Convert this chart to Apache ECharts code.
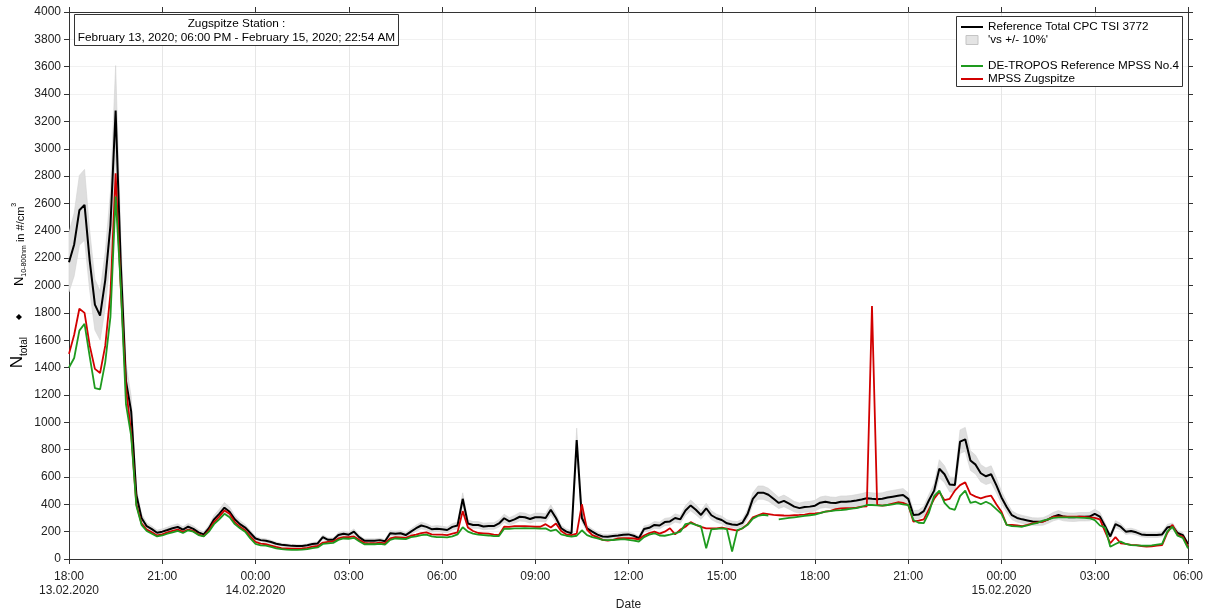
<!DOCTYPE html>
<html>
<head>
<meta charset="utf-8">
<title>Zugspitze Station N_total</title>
<script src="https://cdn.jsdelivr.net/npm/echarts@6/dist/echarts.min.js"></script>
<style>
  html, body { margin: 0; padding: 0; background: #fff; }
  #chart { width: 1208px; height: 611px; }
</style>
</head>
<body>
<div id="chart"></div>
<script>
// Samples every 10 minutes, starting 13.02.2020 18:00 (x in hours since start)
const STEP_MIN = 10;

const tickLabels = [
  '18:00\n13.02.2020', '21:00', '00:00\n14.02.2020', '03:00', '06:00', '09:00',
  '12:00', '15:00', '18:00', '21:00', '00:00\n15.02.2020', '03:00', '06:00'
];

// Reference Total CPC TSI 3772, #/cm3
const cpcTotal = [
  2170, 2300, 2550, 2590, 2180, 1860, 1780, 2040, 2440, 3280,
  2150, 1300, 1080, 470, 300, 240, 218, 192, 200, 212,
  225, 234, 214, 236, 220, 195, 180, 225, 290, 330,
  375, 345, 290, 255, 230, 190, 150, 138, 134, 124,
  112, 104, 100, 96, 95, 95, 100, 110, 114, 160,
  140, 140, 175, 185, 178, 200, 160, 134, 134, 134,
  138, 130, 188, 185, 188, 175, 200, 225, 245, 235,
  218, 222, 218, 212, 235, 245, 440, 260, 249, 249,
  238, 241, 241, 260, 298, 275, 290, 309, 305, 292,
  305, 305, 300, 360, 300, 225, 200, 188, 870, 300,
  224, 200, 178, 165, 163, 168, 172, 178, 180, 170,
  152, 220, 228, 249, 245, 270, 275, 300, 290, 355,
  392, 360, 322, 371, 320, 298, 285, 261, 252, 249,
  265, 330, 440, 485, 485, 470, 440, 410, 425, 405,
  383, 372, 380, 383, 390, 412, 419, 412, 410, 419,
  419, 422, 428, 435, 444, 440, 437, 440, 450, 456,
  462, 468, 440, 322, 325, 350, 430, 500, 660, 620,
  545, 541, 858, 875, 720, 690, 627, 605, 620, 540,
  450, 380, 320, 300, 290, 282, 274, 273, 275, 290,
  310, 322, 310, 306, 305, 309, 309, 310, 330, 310,
  240, 165, 255, 236, 200, 205, 195, 180, 175, 175,
  175, 180, 230, 240, 190, 175, 110
];

// DE-TROPOS Reference MPSS No.4, #/cm3 (null = no scan)
const mpssTropos = [
  1400, 1470, 1670, 1720, 1480, 1250, 1240, 1440, 1770, 2650,
  1990, 1130, 900, 390, 250, 205, 185, 165, 172, 185,
  195, 205, 190, 210, 200, 175, 165, 200, 255, 290,
  330, 305, 255, 225, 200, 150, 110, 100, 98, 88,
  78, 72, 68, 66, 66, 68, 72, 80, 85, 110,
  115, 118, 140, 150, 148, 155, 130, 108, 108, 108,
  110, 105, 140, 150, 148, 145, 160, 165, 175, 178,
  165, 160, 160, 158, 165, 180, 232, 200, 185, 178,
  175, 172, 168, 168, 222, 220, 224, 224, 225, 224,
  224, 222, 224, 205, 215, 180, 170, 163, 170, 210,
  175, 160, 150, 140, 138, 139, 142, 145, 140, 135,
  128, 160, 178, 188, 172, 170, 178, 188, 200, 255,
  262, 249, 238, 78, 217, 220, 224, 218, 55, 212,
  224, 250, 295, 315, 322, 318, null, 290, 295, 300,
  305, 310, 315, 320, 325, 335, 346, 350, 355, 358,
  362, 368, 372, 382, 395, 395, 392, 390, 395, 400,
  407, 400, 395, 285, 265, 262, 340, 460, 500, 410,
  370, 360, 460, 500, 410, 419, 400, 419, 400, 365,
  330, 250, 240, 238, 236, 245, 256, 265, 280, 290,
  300, 305, 305, 305, 305, 302, 300, 298, 285, 245,
  230, 90, 110, 127, 110, 102, 100, 98, 97, 100,
  105, 110, 200, 236, 170, 155, 78
];

// MPSS Zugspitze, #/cm3
const mpssZugspitze = [
  1500, 1640, 1830, 1800, 1560, 1390, 1360, 1560, 1940, 2820,
  1980, 1250, 920, 400, 260, 215, 195, 172, 180, 195,
  205, 215, 198, 215, 205, 180, 168, 210, 270, 310,
  355, 330, 270, 235, 210, 165, 125, 112, 108, 98,
  88, 80, 78, 76, 76, 78, 82, 90, 95, 120,
  125, 128, 150, 160, 160, 165, 140, 118, 115, 115,
  120, 115, 150, 160, 158, 155, 170, 178, 190, 195,
  180, 178, 178, 175, 185, 195, 350, 230, 205, 190,
  188, 185, 178, 175, 236, 235, 240, 241, 240, 238,
  236, 236, 255, 230, 260, 205, 180, 175, 185, 400,
  215, 175, 160, 140, 134, 140, 150, 152, 152, 150,
  144, 172, 190, 200, 185, 200, 225, 180, 215, 236,
  270, 250, 235, 224, 224, 224, 229, 222, 215, 207,
  225, 255, 305, 320, 334, 328, 322, 320, 318, 317,
  320, 322, 325, 332, 334, 338, 346, 352, 365, 370,
  371, 371, 376, 383, 385, 1850, 395, 390, 395, 405,
  415, 410, 395, 273, 280, 290, 365, 440, 490, 430,
  440, 500, 540, 560, 475, 456, 444, 456, 463, 400,
  345, 250, 249, 245, 241, 250, 261, 268, 273, 290,
  309, 309, 309, 309, 309, 309, 308, 305, 300, 290,
  200, 115, 160, 115, 110, 104, 102, 95, 90, 93,
  98, 102, 190, 250, 175, 163, 90
];

const BAND_NAME = "'vs +/- 10%'";
const FONT = '"Liberation Sans", Arial, sans-serif';

const hourOf = i => i * STEP_MIN / 60;
const toPairs = arr => arr.map((v, i) => [hourOf(i), v]);
// grey band: reference total from -10% to +10%
const bandUpper = cpcTotal.map((v, i) => [hourOf(i), v * 1.1]);
const bandLower = cpcTotal.map((v, i) => [hourOf(i), v * 0.9]);

const chart = echarts.init(document.getElementById('chart'), null, { renderer: 'canvas' });

const baseX = {
  type: 'value', min: 0, max: 36, interval: 3,
  axisLine: { show: true, onZero: false, lineStyle: { color: '#333', width: 1 } },
  axisTick: { show: true, inside: false, length: 5, lineStyle: { color: '#333' } }
};
const baseY = {
  type: 'value', min: 0, max: 4000, interval: 200,
  axisLine: { show: true, onZero: false, lineStyle: { color: '#333', width: 1 } },
  axisTick: { show: true, inside: false, length: 5, lineStyle: { color: '#333' } }
};

const option = {
  animation: false,
  backgroundColor: '#fff',
  textStyle: { fontFamily: FONT },
  grid: { left: 69, right: 20, top: 12, bottom: 52, containLabel: false, outerBoundsMode: 'none' },
  xAxis: [
    Object.assign({}, baseX, {
      position: 'bottom',
      name: 'Date', nameLocation: 'middle', nameGap: 40, nameMoveOverlap: false,
      nameTextStyle: { fontSize: 12, color: '#222', fontFamily: FONT },
      axisLabel: {
        fontSize: 12, color: '#222', fontFamily: FONT, margin: 11, lineHeight: 14,
        formatter: v => tickLabels[Math.round(v / 3)]
      },
      splitLine: { show: true, lineStyle: { color: '#e6e6e6', width: 1 } }
    }),
    Object.assign({}, baseX, {
      position: 'top',
      axisLabel: { show: false },
      splitLine: { show: false }
    })
  ],
  yAxis: [
    Object.assign({}, baseY, {
      position: 'left',
      name: '{big|N}{sub|total}{dia|◆}{mid|N}{sub2|10-800nm}{midb| in #/cm}{sup|3}',
      nameLocation: 'middle', nameGap: 40, nameRotate: 90, nameMoveOverlap: false,
      nameTextStyle: {
        color: '#000', fontFamily: FONT,
        rich: {
          big: { fontSize: 17, fontFamily: FONT, color: '#000', verticalAlign: 'bottom', padding: [0, 0, 3, 0] },
          sub: { fontSize: 10, fontFamily: FONT, color: '#000', verticalAlign: 'bottom' },
          dia: { fontSize: 8, fontFamily: FONT, color: '#000', verticalAlign: 'bottom', padding: [0, 28, 6, 17] },
          mid: { fontSize: 13, fontFamily: FONT, color: '#000', verticalAlign: 'bottom', padding: [0, 0, 3, 0] },
          sub2: { fontSize: 7, fontFamily: FONT, color: '#000', verticalAlign: 'bottom', padding: [0, 0, 1, 0] },
          midb: { fontSize: 11, fontFamily: FONT, color: '#000', verticalAlign: 'bottom', padding: [0, 0, 3, 0] },
          sup: { fontSize: 7, fontFamily: FONT, color: '#000', verticalAlign: 'bottom', padding: [0, 0, 11, 0] }
        }
      },
      axisLabel: { fontSize: 12, color: '#222', fontFamily: FONT, margin: 8, formatter: v => String(v) },
      splitLine: { show: true, lineStyle: { color: '#f1f1f1', width: 1 } }
    }),
    Object.assign({}, baseY, {
      position: 'right',
      axisLabel: { show: false },
      splitLine: { show: false }
    })
  ],
  legend: [
    {
      z: 20, orient: 'vertical', left: 960, top: 21, itemGap: 1, padding: 0,
      itemWidth: 22, itemHeight: 9,
      textStyle: { fontSize: 11.7, color: '#000', fontFamily: FONT },
      data: [
        { name: 'Reference Total CPC TSI 3772', itemStyle: { opacity: 0 } },
        { name: BAND_NAME, icon: 'path://M0,0L12,0L12,9L0,9Z',
          itemStyle: { color: '#e4e4e4', borderColor: '#c4c4c4', borderWidth: 1, opacity: 1 } }
      ]
    },
    {
      z: 20, orient: 'vertical', left: 960, top: 60, itemGap: 1, padding: 0,
      itemWidth: 22, itemHeight: 9,
      textStyle: { fontSize: 11.7, color: '#000', fontFamily: FONT },
      data: [
        { name: 'DE-TROPOS Reference MPSS No.4', itemStyle: { opacity: 0 } },
        { name: 'MPSS Zugspitze', itemStyle: { opacity: 0 } }
      ]
    }
  ],
  graphic: [
    { type: 'rect', z: 10, shape: { x: 956.5, y: 16.5, width: 226, height: 70 },
      style: { fill: '#fff', stroke: '#333', lineWidth: 1 } },
    { type: 'rect', z: 10, shape: { x: 74.5, y: 14.5, width: 324, height: 31 },
      style: { fill: '#fff', stroke: '#333', lineWidth: 1 } },
    { type: 'text', z: 11, x: 236.5, y: 17,
      style: {
        text: 'Zugspitze Station :\nFebruary 13, 2020; 06:00 PM - February 15, 2020; 22:54 AM',
        font: '11.8px ' + FONT, fill: '#000', lineHeight: 14,
        align: 'center', textAlign: 'center', verticalAlign: 'top', textVerticalAlign: 'top'
      } }
  ],
  series: [
    {
      // the +/-10% envelope drawn as one filled polygon through the axis scales
      name: BAND_NAME, type: 'custom', silent: true, z: 1,
      data: [[0, 0]],
      itemStyle: { color: '#e4e4e4' },
      renderItem: (params, api) => {
        const top = bandUpper.map(p => api.coord(p));
        const bottom = bandLower.map(p => api.coord(p)).reverse();
        return {
          type: 'polygon',
          shape: { points: top.concat(bottom) },
          style: { fill: '#dedede', stroke: '#d2d2d2', lineWidth: 0.6 }
        };
      }
    },
    {
      name: 'Reference Total CPC TSI 3772', type: 'line', data: toPairs(cpcTotal),
      symbol: 'none', z: 3,
      lineStyle: { color: '#000', width: 2 }, itemStyle: { color: '#000' }
    },
    {
      name: 'MPSS Zugspitze', type: 'line', data: toPairs(mpssZugspitze),
      symbol: 'none', z: 4,
      lineStyle: { color: '#d20000', width: 1.8 }, itemStyle: { color: '#d20000' }
    },
    {
      name: 'DE-TROPOS Reference MPSS No.4', type: 'line', data: toPairs(mpssTropos),
      symbol: 'none', z: 5, connectNulls: false,
      lineStyle: { color: '#1e9a1e', width: 1.8 }, itemStyle: { color: '#1e9a1e' }
    }
  ]
};

chart.setOption(option);
</script>
</body>
</html>
